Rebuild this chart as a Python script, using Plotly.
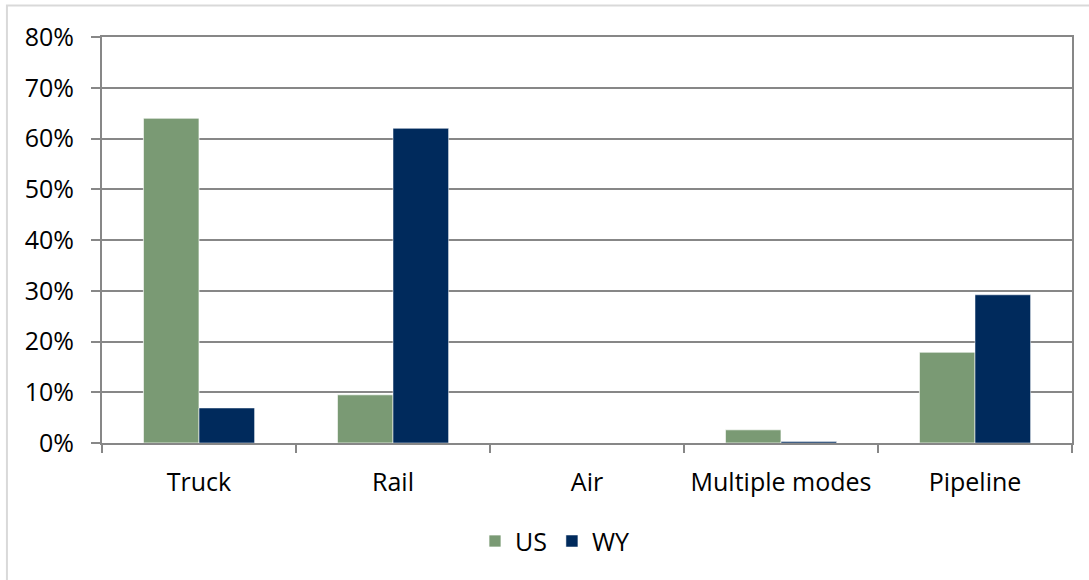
import plotly.graph_objects as go

# Share of freight value by transport mode
modes = ["Truck", "Rail", "Air", "Multiple modes", "Pipeline"]
us_share = [0.640, 0.095, 0.0, 0.026, 0.179]
wy_share = [0.069, 0.620, 0.0, 0.003, 0.292]

US_COLOR = "#7A9A74"
WY_COLOR = "#002A5C"
GRID = "#878787"
FONT = "Open Sans"

fig = go.Figure()
fig.add_trace(go.Bar(
    name="US", x=modes, y=us_share,
    marker=dict(color=US_COLOR, line=dict(color="rgba(255,255,255,0.7)", width=1)),
))
fig.add_trace(go.Bar(
    name="WY", x=modes, y=wy_share,
    marker=dict(color=WY_COLOR, line=dict(color="rgba(255,255,255,0.5)", width=1)),
))

fig.update_layout(
    width=1089, height=580,
    margin=dict(l=102, r=17, t=37, b=137),
    paper_bgcolor="white", plot_bgcolor="white",
    barmode="group", bargap=0.427, bargroupgap=0,
    font=dict(family=FONT, size=25, color="#000000"),
    showlegend=True,
    legend=dict(orientation="h", x=0.467, xanchor="center", y=-0.242, yanchor="middle",
                font=dict(family=FONT, size=25), itemwidth=30, traceorder="normal"),
    shapes=[dict(type="rect", xref="paper", yref="paper",
                 x0=-0.098, x1=1.3, y0=-0.6, y1=1.0777,
                 line=dict(color="#D9D9D9", width=2), layer="below")],
)

fig.update_yaxes(
    range=[0, 0.8], dtick=0.1, tickformat=".0%",
    showgrid=True, gridcolor=GRID, gridwidth=2,
    showline=True, linecolor=GRID, linewidth=2, mirror=True,
    ticks="outside", ticklen=9, tickcolor=GRID, tickwidth=2,
    ticklabelstandoff=12, zeroline=False,
)
fig.update_xaxes(
    showline=True, linecolor=GRID, linewidth=2, mirror=True,
    ticks="outside", ticklen=8, tickcolor=GRID, tickwidth=2,
    tickson="boundaries", showgrid=False, ticklabelstandoff=16,
)

fig.write_html("out.html")
